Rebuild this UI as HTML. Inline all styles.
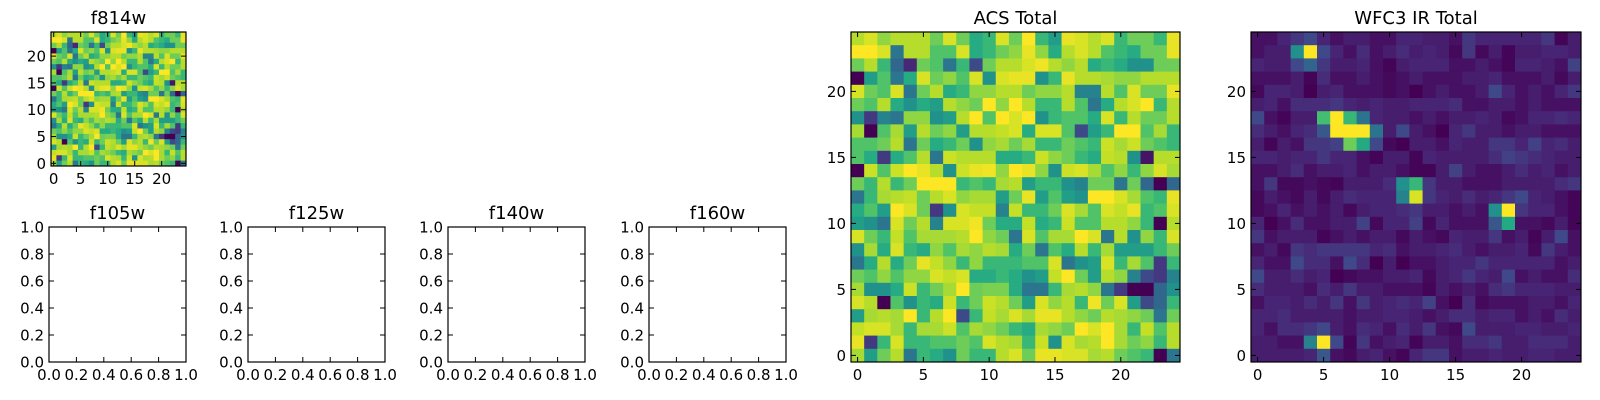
<!DOCTYPE html>
<html><head><meta charset="utf-8"><title>Filter cutouts</title>
<style>
html,body{margin:0;padding:0;background:#fff;}
svg{display:block;font-family:"DejaVu Sans","Liberation Sans",sans-serif;}
</style></head>
<body>
<svg id="fig" width="1600" height="400" viewBox="0 0 1600 400" xmlns="http://www.w3.org/2000/svg"></svg>
<script>
// ---- data (rows listed top row 24 -> bottom row 0, columns 0..24), viridis levels 0..9 ----
const acsRows = [
[8,8.5,7.5,8,8,8,7,8.5,7,5.5,6,8.5,7,9,6,5,8.7,8.5,8,8.5,6,7,7,6,8.7],
[9,9,8.5,3.5,8,8,6.5,6.5,8.5,5.5,6,7,7.5,8.7,7.5,5.5,8,8.5,8,6.5,6,5.5,7,7,8.7],
[7,8,6,3,1,7,6.5,3.5,6,2,7,8,8,8.5,8.8,8,7.5,8,5.5,6,5.5,4.5,4.5,7,7],
[0,5,6.5,3.5,5.5,8.5,7,7.5,6.5,8.5,4.5,8.5,8.7,8.7,4.5,6,8.7,8,8,7.8,7.5,7.5,8,8,8],
[8.5,7,6.5,8.5,3.5,7,8,5.5,6,7.5,7.5,8,8,7,7.5,7.5,8,4,4,8,6.5,8.5,7,7,8.7],
[7,6.5,8,5.5,4.5,5.5,5,8,7.5,7,9,7.5,9,8,6,6,8,6.5,3.5,5.5,8,8.5,9,6,8],
[4.5,1.5,4,3.5,7.5,7.5,4.5,5,8,9,6.5,9,8.5,9,4.5,6,6.5,6.5,5.5,8.5,6,8,7,7,8],
[7.8,0,6.5,7.8,5,8,7,7.5,5,8,8,8.2,8.5,5.5,8.5,8.5,6.5,2,5,6,9,9,6.5,7.8,6],
[6.5,6.5,7,8,3.5,7,5.5,6,7,4.5,7.5,7.8,7,7.8,6,6,7,6.5,6,8.3,7.8,8.3,7,6.5,6],
[6.5,5.5,1.5,5.5,6.5,8,3.5,8.3,8,8,8,5.5,5.5,6,8.3,7.5,7,6,5.5,8.2,8,4.5,0.5,8,8],
[0,8.3,6.5,8.3,9,8.7,8,4.5,8.3,8.7,8.8,7.5,9,8.7,7.5,4.5,8.3,8.5,7.8,6.5,7.5,6,7.5,8.5,7.8],
[7,6,8,6,7,9,9,9,6,6.5,6,7.8,8,5,6,6,4.5,4,7,7,3.5,7,3,0,3],
[3.5,6,7.8,8,8.2,7,8,8.5,7.5,7.8,7.8,5,7,8.7,5,6.5,5,4.5,9,9,8.5,7.8,6.5,6,8.7],
[5.5,6.5,5,9,8.5,7,1.5,4.5,8.5,8.2,8.2,4,8.2,6,6,7,8.5,7.8,6.5,8.5,8.2,8.7,6,6.5,8.5],
[5,4.5,3.5,8.5,7,8,4,8.5,8.5,8.8,7,5.5,5.5,8.2,5.5,6,8.3,6.5,6.5,8,8,7.5,6,0,8],
[8.5,7,6,8.2,6.5,7.8,7.8,7.8,8,9,7.5,7,3.5,8.5,6.5,7.8,7.8,9,8.5,3.5,8,4.5,7.5,6,8.5],
[4.5,7.8,5.5,8.5,6,5.5,7.5,6.5,7.8,7.5,8,7.8,5.5,7,3.5,6.5,5.5,8,6,7.8,5,5,5,6,7],
[3.5,5.5,8,5.5,7,8.7,8.2,7.5,6,7.5,6,6,6,6.5,6.5,8.5,3.5,4.5,5,8.5,6,7.8,6.5,1.5,6],
[7,6.5,7.5,6.5,7.5,7.5,8.5,8.2,8.5,5.5,5.5,6,5.5,4.5,5,8.2,9,7,5,8,7.5,4,2,1.5,4],
[7.8,4.5,4.5,5.5,8.3,6,7,7.8,9,7,7.2,7.2,5.5,3.5,3.5,6,7.8,8,7.5,3.5,1.5,0,0,3,4.5],
[8.5,8,0,6.5,4.5,6,5.5,8.3,6,7,8.3,8,7,5,8.5,7.5,8,6,8.8,7,8.5,5,2,3,6],
[5,7.8,8,7.8,9,6,8,9,2,6,8.2,7.8,8.5,7.8,8.7,8.7,8,7.5,7,8,7.8,7.5,7,3.5,7],
[8.2,8.5,8.5,7.8,6,7.8,7.8,8.3,6.5,7.8,7.5,7,6,5.5,7.8,7.5,7,9,8.5,9,7.8,6,8.2,6.5,8],
[8.7,1.5,6,8.5,6,6,6.5,6.5,7,6.5,8.5,8,7.8,6,8.3,4.5,8.5,7.8,8,9,7.8,7,7.5,6,8],
[7.8,5,7,8,3.5,6,5.5,4.5,7,6,6,8,8.5,7,8.7,8.7,8.5,8.5,7.8,8,7,6.5,6,0,3.5]
];
const irRows = [
[0.5,0.5,1,1.5,2,1,0.5,0.8,0.8,0.5,0.5,1,1,0.8,0.8,0.5,1.5,1,1,1,1,1,1.5,0.2,0.8],
[0.5,0.8,0.8,4.5,9,2,1,0.5,1.2,0.5,0.8,1.2,0.8,1,0.8,0.3,1.5,0.3,0.8,0.2,0.8,0.8,1,1,0.8],
[1,0.8,0.8,2,3,1.5,0.8,0.8,1,0.5,0.2,0.8,1,1,1,0.5,0.5,0.8,0.5,0.2,1,1,0.8,0.5,1.8],
[0.5,0.5,0.5,0.8,0.2,1.2,0.5,0.5,0.8,0.5,0.3,0.5,0.8,0.5,0.5,0.5,0.8,0.8,1,0.5,0.5,0.5,0.8,0.3,0.8],
[0.3,1,1,0.8,0.1,0.8,1,0.5,0.5,0.5,0.3,0.5,0.1,0.5,0.8,0.5,0.5,0.8,2,1,0.5,0.8,0.5,1,1.5],
[0.8,1,0.5,1.2,1.2,1.2,1.5,1,0.8,1,0.8,0.8,1,1,1,1.2,0.5,0.5,0.8,0.8,0.5,0.8,0.5,0.5,0.5],
[2,0.5,0.2,0.8,0.8,6.3,9,6,3.5,1,0.8,0.8,0.5,0.8,0.5,0.8,0.8,1,0.8,0.3,0.5,1,1,1.2,1],
[1.2,0.8,0.5,1,1.2,2.5,9,9,9,3.5,0.8,2,0.8,0.5,0.1,1,1.5,0.8,0.8,0.5,0.8,0.8,0.5,0.5,0.5],
[0.8,0.2,0.8,0.5,1.5,1.5,1.8,7,5.5,2,0.3,0.1,0.8,0.8,0.5,1,0.8,0.8,1.5,1.5,1,1.8,1,1.2,0.8],
[1,1,0.8,1,1,1.5,1,1,0.5,0.2,0.8,0.8,0.2,1,0.8,0.8,0.8,0.8,1.2,1.8,1.5,1.2,1,0.8,0.8],
[0.5,0.5,0.8,1.2,0.5,0.8,0.8,1,0.5,0.8,0.8,0.5,0.2,0.2,0.8,1.8,0.8,0.5,0.5,0.8,1.2,0.8,1,0.5,0.8],
[0.5,1.5,0.3,0.3,0.5,0.3,0.2,0.8,0.8,0.8,1.2,4.5,6,1.5,0.8,0.8,0.5,0.5,0.5,0.8,0.8,0.8,0.8,1.2,1.5],
[0.3,0.8,0.5,0.3,0.8,0.3,0.8,1.2,1,1,1,4,8.5,1.5,1,0.8,1.2,0.8,1,1.5,2,1,0.8,0.5,0.2],
[0.3,0.5,1,0.5,0.8,0.5,0.8,0.3,0.8,1,1,1.2,1.5,0.8,0.8,0.5,0.8,0.5,4.5,9,1.5,1,1,0.5,0.2],
[1,0.1,0.5,1.2,0.5,0.5,0.8,0.8,1.8,0.3,1,1,1.8,0.3,1,0.5,0.5,0.5,2.5,5.5,0.5,0.5,0.3,0.8,0.2],
[1.5,0.5,0.8,0.8,0.8,0.2,0.5,0.8,0.5,0.8,0.8,0.3,0.8,0.5,0.3,1,0.8,0.8,1.5,0.5,0.8,0.2,0.8,2,0.5],
[0.5,0.8,0.3,1.5,1.2,1.5,1.5,1.5,1.5,1,1.2,0.5,0.8,0.8,1,1.2,0.8,0.5,0.8,0.8,1,0.3,1.5,0.8,0.5],
[1,0.5,0.5,2,1.2,1.2,0.5,2,1.2,0.1,0.8,0.1,0.5,0.5,0.8,1,1,1.5,1,1,1,1,1,0.5,0.8],
[2,0.8,0.8,1.2,0.8,1,0.1,0.3,0.5,0.5,0.8,0.8,1,0.3,0.8,1,1.5,1,0.8,2,0.5,0.8,0.5,0.5,1.2],
[1.2,0.8,0.8,0.8,0.5,1.2,0.8,1.5,0.8,0.8,0.5,0.5,0.5,0.2,0.8,0.5,0.8,0.5,1.2,1.5,1,1,1,0.8,0.8],
[0.5,1,1,0.8,1.2,0.8,1.5,0.5,1.5,0.8,1,1.2,1,1.8,0.5,0.1,1.2,0.3,0.5,0.5,0.5,0.8,0.8,0.5,1],
[1,1,1.2,0.8,0.8,0.8,0.8,0.5,0.8,0.8,1,1,0.8,0.5,0.8,1.2,1.2,0.8,1,1,0.5,0.8,0.5,1.2,0.8],
[1,0.5,1.2,1.2,1.5,2,0.8,0.5,1.2,1,0.5,1.2,0.8,1.5,0.5,0.3,2,0.8,0.8,0.8,1,1,0.8,0.8,1],
[0.8,0.8,0.5,0.5,4,9,2,0.2,1.5,0.5,0.8,1,0.2,0.8,0.8,0.5,1.2,1.2,1.5,0.8,0.8,1.2,1.2,1.2,0.8],
[0.8,0.8,0.8,0.8,1,2.5,0.5,0.3,0.8,1,0.5,0.2,1,1.5,1.5,0.5,0.8,0.8,1,0.8,0.8,1,1,0.8,0.8]
];
const imgTicks = [0,5,10,15,20];
const unitTicks = [0,0.2,0.4,0.6,0.8,1.0];
const unitTickLabels = ["0.0","0.2","0.4","0.6","0.8","1.0"];
const emptyTitles = ["f105w","f125w","f140w","f160w"];

const VIR = ["#440154","#482475","#414487","#355f8d","#2a788e","#21918c","#22a884","#44bf70","#7ad151","#bddf26","#fde725"];
function hex(h){return [parseInt(h.substr(1,2),16),parseInt(h.substr(3,2),16),parseInt(h.substr(5,2),16)];}
function viridis(t){
  t=Math.max(0,Math.min(1,t));
  const f=t*10, i=Math.min(9,Math.floor(f)), r=f-i;
  const a=hex(VIR[i]), b=hex(VIR[i+1]);
  return "rgb("+a.map((v,k)=>Math.round(v+(b[k]-v)*r)).join(",")+")";
}
const NS="http://www.w3.org/2000/svg";
const svg=document.getElementById('fig');
function mk(tag,attrs,parent){const e=document.createElementNS(NS,tag);for(const k in attrs)e.setAttribute(k,attrs[k]);(parent||svg).appendChild(e);return e;}

function drawAxes(name,x0,y0,w,h,xmin,xmax,ymin,ymax,xt,xl,yt,yl,title,fs,tfs){
  const g=mk('g',{});
  
  
  const sx=v=>x0+(v-xmin)/(xmax-xmin)*w;
  const sy=v=>y0+h-(v-ymin)/(ymax-ymin)*h;
  return {g,sx,sy,finish:function(){
    const fr=mk('rect',{x:x0,y:y0,width:w,height:h,fill:'none',stroke:'#000','stroke-width':1.2},g);
    
    
    xt.forEach((v,i)=>{
      const X=sx(v);
      mk('line',{x1:X,y1:y0+h,x2:X,y2:y0+h-5,stroke:'#000','stroke-width':1},g);
      mk('line',{x1:X,y1:y0,x2:X,y2:y0+5,stroke:'#000','stroke-width':1},g);
      const t=mk('text',{x:X,y:y0+h+18,'text-anchor':'middle','font-size':fs,fill:'#000'},g);
      t.textContent=xl[i];
      
      
    });
    yt.forEach((v,i)=>{
      const Y=sy(v);
      mk('line',{x1:x0,y1:Y,x2:x0+5,y2:Y,stroke:'#000','stroke-width':1},g);
      mk('line',{x1:x0+w,y1:Y,x2:x0+w-5,y2:Y,stroke:'#000','stroke-width':1},g);
      const t=mk('text',{x:x0-5,y:Y+5.5,'text-anchor':'end','font-size':fs,fill:'#000'},g);
      t.textContent=yl[i];
      
      
    });
    const tt=mk('text',{x:x0+w/2,y:y0-8,'text-anchor':'middle','font-size':tfs,fill:'#000'},g);
    tt.textContent=title;
    
    
  }};
}

function heatmap(name,rows,x0,y0,w,h,title,fs,tfs){
  const n=rows.length;
  let mn=Infinity,mx=-Infinity;
  rows.forEach(r=>r.forEach(v=>{mn=Math.min(mn,v);mx=Math.max(mx,v);}));
  const ax=drawAxes(name,x0,y0,w,h,-0.5,n-0.5,-0.5,n-0.5,imgTicks,imgTicks.map(String),imgTicks,imgTicks.map(String),title,fs,tfs);
  rows.forEach((r,ri)=>{
    const yv=n-1-ri;
    r.forEach((v,ci)=>{
      const xa=ax.sx(ci-0.5), xb=ax.sx(ci+0.5), ya=ax.sy(yv+0.5), yb=ax.sy(yv-0.5);
      const c=mk('rect',{x:xa,y:ya,width:xb-xa+0.4,height:yb-ya+0.4,fill:viridis((v-mn)/(mx-mn))},ax.g);
      
      
    });
  });
  ax.finish();
}

heatmap('f814w',acsRows,51,32,135,134,'f814w',15,18);
heatmap('acs-total',acsRows,851,32,329,330,'ACS Total',15,18);
heatmap('wfc3-ir-total',irRows,1251,32,330,330,'WFC3 IR Total',15,18);

const emptyX=[49,248,448,649];
emptyTitles.forEach((t,i)=>{
  const ax=drawAxes(t,emptyX[i],227,137,135,0,1,0,1,unitTicks,unitTickLabels,unitTicks,unitTickLabels,t,15,18);
  ax.finish();
});
</script>
</body></html>
